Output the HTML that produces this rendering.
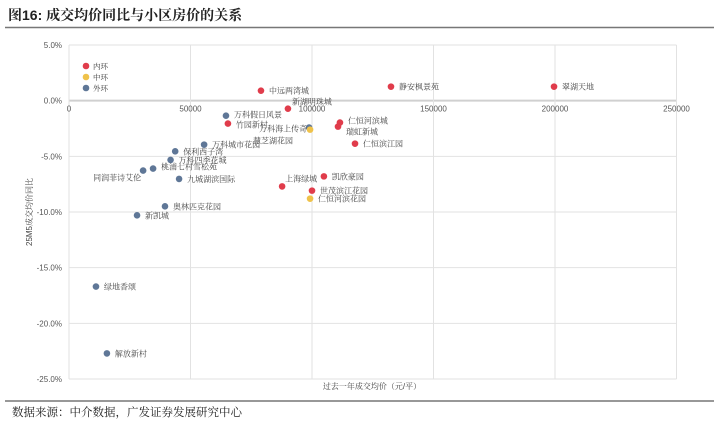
<!DOCTYPE html>
<html><head><meta charset="utf-8">
<style>
body{margin:0;width:719px;height:425px;background:#fff;overflow:hidden;font-family:"Liberation Sans","Noto Serif CJK SC","Noto Sans CJK SC",sans-serif;}
svg text{font-family:"Liberation Sans","Noto Serif CJK SC",serif;}
</style></head>
<body>
<svg id="c" width="719" height="425">
<text x="8" y="20" font-size="14" font-weight="bold" fill="#222" font-family="Liberation Sans,Noto Sans CJK SC,sans-serif">图16:  成交均价同比与小区房价的关系</text>
<line x1="5" y1="27.5" x2="714" y2="27.5" stroke="#777" stroke-width="1.5"/>
<line x1="5" y1="401" x2="714" y2="401" stroke="#777" stroke-width="1.5"/>
<text x="12" y="416" font-size="11.5" fill="#222">数据来源：中介数据，广发证券发展研究中心</text>
<g id="grid"></g><g id="pts"></g>
</svg>
<script>
const xTicks=[0,50000,100000,150000,200000,250000];
const yTicks=[5,0,-5,-10,-15,-20,-25];
const names=["中远两湾城","静安枫景苑","翠湖天地","新湖明珠城","竹园新村","仁恒河滨城","瑞虹新城","仁恒滨江园","上海绿城","凯欣豪园","世茂滨江花园","万科海上传奇","慧芝湖花园","仁恒河滨花园","万科假日风景","万科城市花园","保利西子湾","万科四季花城","桃浦七村雪松苑","同润菲诗艾伦","九城湖滨国际","奥林匹克花园","新凯城","绿地香颂","解放新村"];
const prices=[79000,132500,199600,90100,65400,111500,110700,117700,87700,104900,100000,98800,99200,99200,64600,55600,43700,41800,34600,30500,45300,39500,28000,11100,15600];
const yoy=[0.9,1.26,1.26,-0.72,-2.06,-1.97,-2.33,-3.86,-7.7,-6.8,-8.08,-2.42,-2.6,-8.8,-1.35,-3.95,-4.55,-5.32,-6.1,-6.28,-7.03,-9.49,-10.3,-16.7,-22.7];
const rings=["内环","内环","内环","内环","内环","内环","内环","内环","内环","内环","内环","外环","中环","中环","外环","外环","外环","外环","外环","外环","外环","外环","外环","外环","外环"];
const ringNames=["内环","中环","外环"];
const colors={"内环":"#e03c4b","中环":"#efc24a","外环":"#5f7797"};
const X0=69,X1=676.5,Y0=45,Y1=379;
const sx=v=>X0+(v-0)/250000*(X1-X0);
const sy=v=>Y0+(5-v)/30*(Y1-Y0);
const NS="http://www.w3.org/2000/svg";
function mk(t,a,p){const e=document.createElementNS(NS,t);for(const k in a)e.setAttribute(k,a[k]);p.appendChild(e);return e;}
const g=document.getElementById('grid'),P=document.getElementById('pts');
yTicks.forEach(v=>{
 const l=mk('line',{x1:X0,x2:X1,y1:sy(v),y2:sy(v),stroke:v===0?'#d0d0d0':'#e2e2e2','stroke-width':v===0?2:1},g);
 
 
 const t=mk('text',{x:62,y:sy(v)+3,'font-size':8,fill:'#555','text-anchor':'end'},g);
 t.textContent=v.toFixed(1)+'%';
 
 
});
xTicks.forEach(v=>{
 const l=mk('line',{x1:sx(v),x2:sx(v),y1:Y0,y2:Y1,stroke:'#e2e2e2'},g);
 
 
 const t=mk('text',{x:sx(v),y:sy(0)+11,'font-size':8,fill:'#555','text-anchor':'middle'},g);
 t.textContent=String(v);
 
 
});
const yt=mk('text',{x:0,y:0,'font-size':8,fill:'#444','text-anchor':'middle',transform:'translate(32,212) rotate(-90)'},g);
yt.textContent='25M5成交均价同比';


const xt=mk('text',{x:372,y:389,'font-size':8,fill:'#444','text-anchor':'middle'},g);
xt.textContent='过去一年成交均价（元/平）';


const off={"万科海上传奇":[-50,4],"慧芝湖花园":[-57,14],"仁恒河滨城":[8,1],"瑞虹新城":[8,8],"上海绿城":[3,-5],"新湖明珠城":[4,-4],"同润菲诗艾伦":[-50,10],"竹园新村":[8,4],"万科假日风景":[8,2],"桃浦七村雪松苑":[8,1]};
names.forEach((n,i)=>{
 const cx=sx(prices[i]),cy=sy(yoy[i]);
 const c=mk('circle',{cx:cx,cy:cy,r:3.3,fill:colors[rings[i]]},P);
 
 
 const o=off[n]||[8,3];
 const t=mk('text',{x:cx+o[0],y:cy+o[1],'font-size':8,fill:'#444'},P);
 t.textContent=n;
 
 
});
ringNames.forEach((r,i)=>{
 const c=mk('circle',{cx:86,cy:66+i*11,r:3.3,fill:colors[r]},P);
 
 
 const t=mk('text',{x:93,y:69+i*11,'font-size':7.5,fill:'#333'},P);
 t.textContent=r;
 
 
});
</script>
</body></html>
